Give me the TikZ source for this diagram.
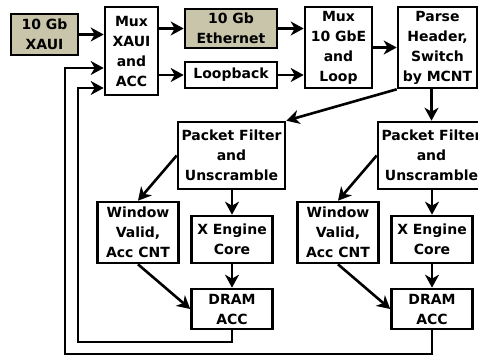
\documentclass[tikz,border=0pt]{standalone}
\usepackage{fontspec}
\setmainfont{DejaVu Sans}
\usepackage{tikz}
\usetikzlibrary{arrows.meta,positioning}
\usepackage{xcolor}
\definecolor{phyfill}{RGB}{200,197,170}
\tikzset{
  blk/.style   ={draw, rectangle, inner sep=0pt, align=center,
                 line width=2.6pt, fill=white,
                 font=\bfseries\fontsize{14}{20}\selectfont},
  phyblk/.style={blk, fill=phyfill},
  arr/.style   ={-{Stealth[length=13pt, width=14pt, inset=4pt]},
                 line width=2.6pt},
}

\begin{document}
\begin{tikzpicture}[x=1pt, y=-1pt]
  \useasboundingbox (0,0) rectangle (478,355);
  \clip (0,0) rectangle (478,355);
  % ---- top row: XAUI in, muxes, parser
  \node[phyblk, minimum width=67pt, minimum height=41pt] (xaui) at (44.5,34.5) {10 Gb\\XAUI};
  \node[blk, minimum width=53pt, minimum height=88pt]    (muxa) at (131.5,51)  {Mux\\XAUI\\and\\ACC};
  \node[phyblk, minimum width=92pt, minimum height=39pt] (eth)  at (231,28.5)  {10 Gb\\Ethernet};
  \node[blk, minimum width=92pt, minimum height=26pt]    (loop) at (231,75)    {Loopback};
  \node[blk, minimum width=67pt, minimum height=81pt]    (muxb) at (338.5,47.5) {Mux\\10 GbE\\and\\Loop};
  \node[blk, minimum width=79pt, minimum height=81pt]    (prs)  at (437.5,47.5) {Parse\\Header,\\Switch\\by MCNT};
  \draw[arr] (xaui.east) -- (muxa.west |- xaui.east);
  \draw[arr] (muxa.east |- eth.west) -- (eth.west);
  \draw[arr] (muxa.east |- loop.west) -- (loop.west);
  \draw[arr] (eth.east) -- (muxb.west |- eth.east);
  \draw[arr] (loop.east) -- (muxb.west |- loop.east);
  \draw[arr] (muxb.east) -- (prs.west);
  % ---- two X engine lanes
  \foreach \ln/\cx in {l/231.5, r/431.5} {
    \node[blk, minimum width=107pt, minimum height=67pt] (pf\ln)   at (\cx,155.5)    {Packet Filter\\and\\Unscramble};
    \node[blk, minimum width=81pt, minimum height=61pt]  (win\ln)  at (\cx-93.5,232.5) {Window\\Valid,\\Acc CNT};
    \node[blk, minimum width=81pt, minimum height=47pt]  (xe\ln)   at (\cx+0.5,239.5) {X Engine\\Core};
    \node[blk, minimum width=81pt, minimum height=40pt]  (dram\ln) at (\cx+0.5,309)   {DRAM\\ACC};
    \draw[arr] (pf\ln.west) -- (win\ln.north);
    \draw[arr] (pf\ln.south -| xe\ln) -- (xe\ln.north);
    \draw[arr] (xe\ln) -- (dram\ln);
    \draw[arr] (win\ln.south) -- (dram\ln.west);
  }
  \draw[arr] (prs.south -| pfr.north) -- (pfr.north);
  \draw[arr] (prs.south west) -- (pfl.north east);
  % ---- accumulator feedback into first mux
  \coordinate (fbl) at (78,342);
  \coordinate (fbr) at (65,354);
  \draw[arr] (draml.south) |- (fbl) |- (muxa.west |- 0,88);
  \draw[arr] (dramr.south) |- (fbr) |- (muxa.west |- 0,68);
\end{tikzpicture}
\end{document}
